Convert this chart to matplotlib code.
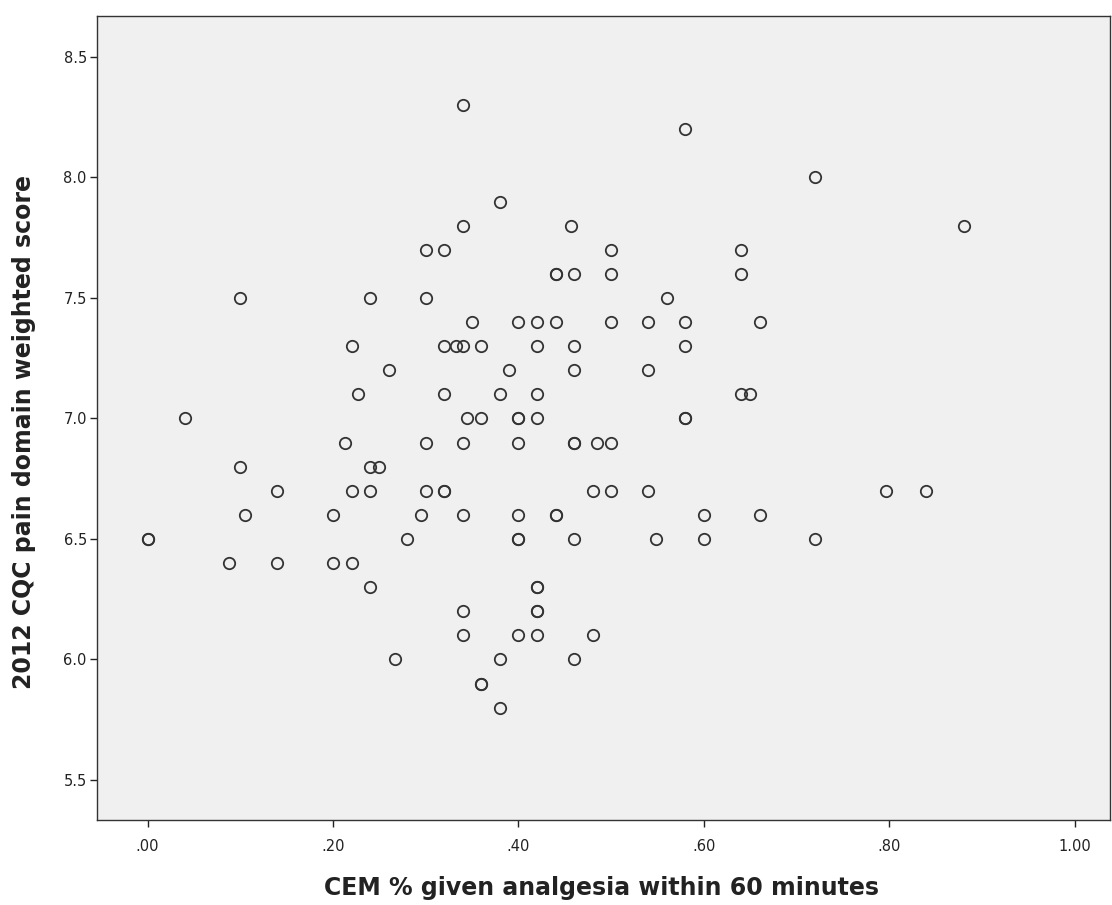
import matplotlib
matplotlib.use("Agg")
import matplotlib.pyplot as plt
from matplotlib.ticker import FuncFormatter

plt.rcParams["font.family"] = ["DejaVu Sans"]

# CEM % given analgesia within 60 minutes (x) vs 2012 CQC pain score (y)
cem_pct = [
    0.34, 0.58, 0.72, 0.38,
    0.34, 0.457, 0.88,
    0.30, 0.32, 0.50, 0.64,
    0.44, 0.44, 0.46, 0.50, 0.64,
    0.10, 0.24, 0.30, 0.56,
    0.35, 0.40, 0.42, 0.44, 0.50, 0.54, 0.58, 0.66,
    0.22, 0.32, 0.333, 0.34, 0.36, 0.42, 0.46, 0.58,
    0.26, 0.39, 0.46, 0.54,
    0.227, 0.32, 0.38, 0.42, 0.64, 0.65,
    0.04, 0.345, 0.36, 0.40, 0.40, 0.42, 0.58, 0.58,
    0.213, 0.30, 0.34, 0.40, 0.46, 0.46, 0.485, 0.50,
    0.10, 0.24, 0.25,
    0.14, 0.22, 0.24, 0.30, 0.32, 0.32, 0.48, 0.50, 0.54, 0.796, 0.84,
    0.105, 0.20, 0.295, 0.34, 0.40, 0.44, 0.44, 0.60, 0.66,
    0.0, 0.0, 0.28, 0.40, 0.40, 0.46, 0.548, 0.60, 0.72,
    0.088, 0.14, 0.20, 0.22,
    0.24, 0.42, 0.42,
    0.34, 0.42, 0.42,
    0.34, 0.40, 0.42, 0.48,
    0.267, 0.38, 0.46,
    0.36, 0.36,
    0.38,
]
cqc_score = [
    8.3, 8.2, 8.0, 7.9,
    7.8, 7.8, 7.8,
    7.7, 7.7, 7.7, 7.7,
    7.6, 7.6, 7.6, 7.6, 7.6,
    7.5, 7.5, 7.5, 7.5,
    7.4, 7.4, 7.4, 7.4, 7.4, 7.4, 7.4, 7.4,
    7.3, 7.3, 7.3, 7.3, 7.3, 7.3, 7.3, 7.3,
    7.2, 7.2, 7.2, 7.2,
    7.1, 7.1, 7.1, 7.1, 7.1, 7.1,
    7.0, 7.0, 7.0, 7.0, 7.0, 7.0, 7.0, 7.0,
    6.9, 6.9, 6.9, 6.9, 6.9, 6.9, 6.9, 6.9,
    6.8, 6.8, 6.8,
    6.7, 6.7, 6.7, 6.7, 6.7, 6.7, 6.7, 6.7, 6.7, 6.7, 6.7,
    6.6, 6.6, 6.6, 6.6, 6.6, 6.6, 6.6, 6.6, 6.6,
    6.5, 6.5, 6.5, 6.5, 6.5, 6.5, 6.5, 6.5, 6.5,
    6.4, 6.4, 6.4, 6.4,
    6.3, 6.3, 6.3,
    6.2, 6.2, 6.2,
    6.1, 6.1, 6.1, 6.1,
    6.0, 6.0, 6.0,
    5.9, 5.9,
    5.8,
]

x_ticks = [0.0, 0.2, 0.4, 0.6, 0.8, 1.0]
y_ticks = [5.5, 6.0, 6.5, 7.0, 7.5, 8.0, 8.5]

fig = plt.figure(figsize=(11.12, 9.05), dpi=100)
fig.patch.set_facecolor("white")
ax = fig.add_axes([0.0868, 0.0934, 0.9112, 0.8889])
ax.set_facecolor("#f0f0f0")

ax.plot(cem_pct, cqc_score, linestyle="none", marker="o", markersize=8.2,
        markerfacecolor="none", markeredgecolor="#333333", markeredgewidth=1.3)

ax.set_xlim(-0.055, 1.0377)
ax.set_ylim(5.332, 8.67)
ax.set_xticks(x_ticks)
ax.set_yticks(y_ticks)
ax.xaxis.set_major_formatter(FuncFormatter(lambda v, p: f"{v:.2f}".lstrip("0") if v < 1 else f"{v:.2f}"))
ax.yaxis.set_major_formatter(FuncFormatter(lambda v, p: f"{v:.1f}"))
ax.tick_params(direction="out", length=5, width=1, colors="#222222", labelsize=10.5)
ax.tick_params(axis="x", pad=8)
ax.tick_params(axis="y", pad=2)

for s in ax.spines.values():
    s.set_color("#333333")
    s.set_linewidth(1.0)

fig.text(0.541, 0.019, "CEM % given analgesia within 60 minutes",
         ha="center", va="center", fontsize=17, fontweight="bold", color="#222222")
fig.text(0.022, 0.523, "2012 CQC pain domain weighted score", rotation=90,
         ha="center", va="center", fontsize=17, fontweight="bold", color="#222222")

fig.savefig("out.png", dpi=100)
